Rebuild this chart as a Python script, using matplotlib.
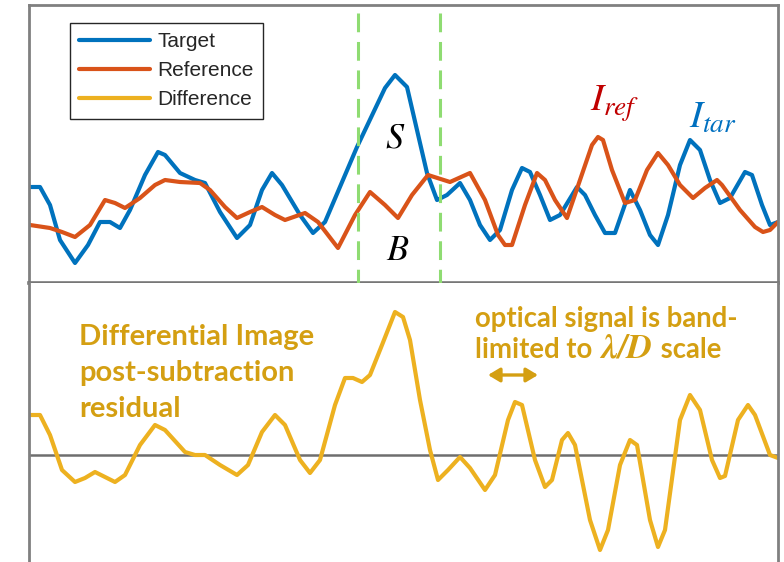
import matplotlib
matplotlib.use("Agg")
import matplotlib.pyplot as plt
from matplotlib.transforms import blended_transform_factory

plt.rcParams['mathtext.fontset'] = 'custom'
plt.rcParams['mathtext.it'] = 'STIXGeneral:italic'
plt.rcParams['mathtext.rm'] = 'STIXGeneral'
plt.rcParams['mathtext.bf'] = 'STIXGeneral:italic:bold'
plt.rcParams['lines.scale_dashes'] = False

# ---------------- data ----------------
target_pos = [30, 40, 50, 60, 75, 88, 100, 110, 120, 130, 145, 158, 165, 180, 195, 205,
              220, 237, 250, 262, 272, 282, 300, 313, 325, 357, 385, 395, 407, 420, 427,
              437, 447, 460, 470, 480, 490, 500, 512, 522, 530, 540, 550, 560, 577, 585,
              595, 605, 615, 630, 640, 650, 658, 668, 680, 690, 700, 710, 720, 730, 745,
              752, 762, 770, 778]
target_val = [95, 95, 77, 42, 19, 37, 60, 60, 54, 72, 107, 130, 127, 109, 102, 99,
              70, 44, 57, 92, 109, 97, 67, 49, 60, 135, 194, 207, 195, 139, 109,
              82, 87, 99, 82, 57, 42, 52, 92, 114, 110, 87, 62, 67, 95, 87,
              67, 49, 49, 92, 72, 47, 37, 67, 117, 142, 132, 102, 79, 84, 110,
              107, 77, 57, 60]

reference_pos = [30, 50, 62, 75, 90, 105, 115, 125, 140, 155, 165, 180, 200, 210, 225, 237,
                 250, 262, 275, 285, 305, 318, 338, 355, 370, 385, 398, 412, 428, 450, 470,
                 485, 498, 505, 512, 525, 537, 545, 555, 567, 580, 592, 598, 603, 612, 625,
                 635, 647, 658, 668, 680, 693, 705, 717, 722, 740, 755, 763, 770, 778]
reference_val = [57, 54, 50, 45, 57, 82, 79, 74, 84, 97, 102, 100, 99, 92, 75, 64,
                 70, 75, 67, 62, 69, 60, 34, 67, 90, 77, 64, 87, 107, 100, 109,
                 82, 47, 37, 37, 77, 109, 102, 82, 64, 102, 137, 145, 142, 112, 79,
                 82, 112, 129, 117, 97, 84, 94, 102, 97, 72, 55, 50, 52, 60]

difference_pos = [30, 40, 50, 62, 75, 85, 95, 105, 115, 125, 140, 155, 165, 185, 195, 205,
                  220, 237, 248, 262, 275, 285, 300, 310, 320, 335, 345, 353, 362, 370, 382,
                  395, 403, 410, 420, 430, 438, 448, 460, 470, 485, 495, 508, 515, 522, 535,
                  545, 552, 562, 568, 575, 590, 600, 608, 620, 630, 637, 650, 658, 665, 680,
                  690, 700, 712, 720, 725, 738, 748, 755, 770, 778]
difference_val = [40, 40, 20, -15, -27, -23, -17, -22, -27, -20, 10, 30, 25, 3, 0, 0,
                  -10, -20, -10, 23, 40, 30, -5, -18, -5, 50, 77, 77, 73, 80, 110,
                  143, 138, 115, 55, 5, -25, -15, -2, -13, -35, -20, 35, 53, 50, -5,
                  -32, -25, 15, 22, 10, -65, -95, -75, -10, 15, 10, -65, -92, -75, 35,
                  60, 45, -5, -23, -21, 35, 50, 40, 0, -3]

region_edges = [358, 440]          # positions of the dashed green markers
arrow_span = [488, 538]            # lambda/D scale arrow

series_labels = ['Target', 'Reference', 'Difference']
series_colors = ['#0072bd', '#d95319', '#edb120']
gold = '#d49f12'

# ---------------- figure ----------------
W, H = 784, 562
fig = plt.figure(figsize=(W / 100, H / 100), dpi=100)

left, right = 29 / W, 778 / W
top_y0, top_y1 = 5, 283
ax1 = fig.add_axes([left, 1 - top_y1 / H, right - left, (top_y1 - top_y0) / H])
ax2 = fig.add_axes([left, -0.05, right - left, 1 - top_y1 / H + 0.05])

xlim = (29, 778)
ax1.set_xlim(*xlim)
ax1.set_ylim(282 - top_y1, 282 - top_y0)
ax2.set_xlim(*xlim)
ax2.set_ylim(455 - (H + 0.05 * H), 455 - top_y1)

frame = '#808080'
for ax in (ax1, ax2):
    ax.set_xticks([])
    ax.set_yticks([])
    for s in ax.spines.values():
        s.set_color(frame)
        s.set_linewidth(2.0)
ax1.spines['bottom'].set_linewidth(2.6)
ax1.spines['bottom'].set_color('#777777')
ax2.spines['top'].set_visible(False)
ax2.spines['bottom'].set_visible(False)

lw = 3.0
l1, = ax1.plot(target_pos, target_val, color=series_colors[0], lw=lw,
               solid_joinstyle='round', solid_capstyle='round', label=series_labels[0])
l2, = ax1.plot(reference_pos, reference_val, color=series_colors[1], lw=lw,
               solid_joinstyle='round', solid_capstyle='round', label=series_labels[1])
l3, = ax2.plot(difference_pos, difference_val, color=series_colors[2], lw=lw,
               solid_joinstyle='round', solid_capstyle='round', label=series_labels[2])
ax2.axhline(0, color='#6e6e6e', lw=1.8, zorder=1)

leg = ax1.legend(handles=[l1, l2, l3], loc='upper left',
                 bbox_to_anchor=(70 / W, 1 - 23 / H), bbox_transform=fig.transFigure,
                 borderaxespad=0, fancybox=False, framealpha=1, edgecolor='#262626',
                 prop={'family': 'Liberation Sans', 'size': 15},
                 handlelength=3.4, handletextpad=0.35, labelspacing=0.48,
                 borderpad=0.45)
leg.get_frame().set_linewidth(1.0)
for t in leg.get_texts():
    t.set_color('#262626')

# dashed region markers spanning both panels
tr = blended_transform_factory(ax1.transData, fig.transFigure)
for xe in region_edges:
    ln, = ax1.plot([xe, xe], [1 - 13 / H, 1 - 556 / H], transform=tr, clip_on=False,
                   color='#8fdc72', lw=2.2, zorder=5, solid_capstyle='butt')
    ln.set_dashes([13.5, 7])

# math labels
ax1.text(395, 282 - 138, r'$S$', fontsize=26, ha='center', va='center', color='black')
ax1.text(398, 282 - 250, r'$B$', fontsize=26, ha='center', va='center', color='black')
ax1.text(615, 282 - 104, r'$I_{ref}$', fontsize=28, ha='center', va='center', color='#c00000')
ax1.text(713, 282 - 117, r'$I_{tar}$', fontsize=28, ha='center', va='center', color='#0070c0')

# annotations in bottom panel
tfl = dict(fontsize=21, fontweight='bold', family='Lato', color=gold)
tfr = dict(fontsize=19.8, fontweight='bold', family='Lato', color=gold)
fig.text(79 / W, 1 - 345 / H, 'Differential Image', va='baseline', ha='left', **tfl)
fig.text(79 / W, 1 - 381 / H, 'post-subtraction', va='baseline', ha='left', **tfl)
fig.text(79 / W, 1 - 417 / H, 'residual', va='baseline', ha='left', **tfl)
fig.text(475 / W, 1 - 327 / H, 'optical signal is band-', va='baseline', ha='left', **tfr)

renderer = fig.canvas.get_renderer()
t_a = fig.text(475 / W, 1 - 358 / H, 'limited to ', va='baseline', ha='left', **tfr)
ext = t_a.get_window_extent(renderer)
t_b = fig.text(ext.x1 / W, 1 - 358 / H, r'$\mathbf{\lambda/D}$', va='baseline', ha='left',
               fontsize=25, color=gold)
ext2 = t_b.get_window_extent(renderer)
fig.text((ext2.x1 + 2) / W, 1 - 358 / H, ' scale', va='baseline', ha='left', **tfr)

ax2.annotate('', xy=(arrow_span[0], 455 - 375), xytext=(arrow_span[1], 455 - 375),
             arrowprops=dict(arrowstyle='<|-|>,head_length=0.5,head_width=0.3',
                             color=gold, lw=2.4, mutation_scale=14,
                             shrinkA=0, shrinkB=0))

fig.savefig('out.png', dpi=100)
